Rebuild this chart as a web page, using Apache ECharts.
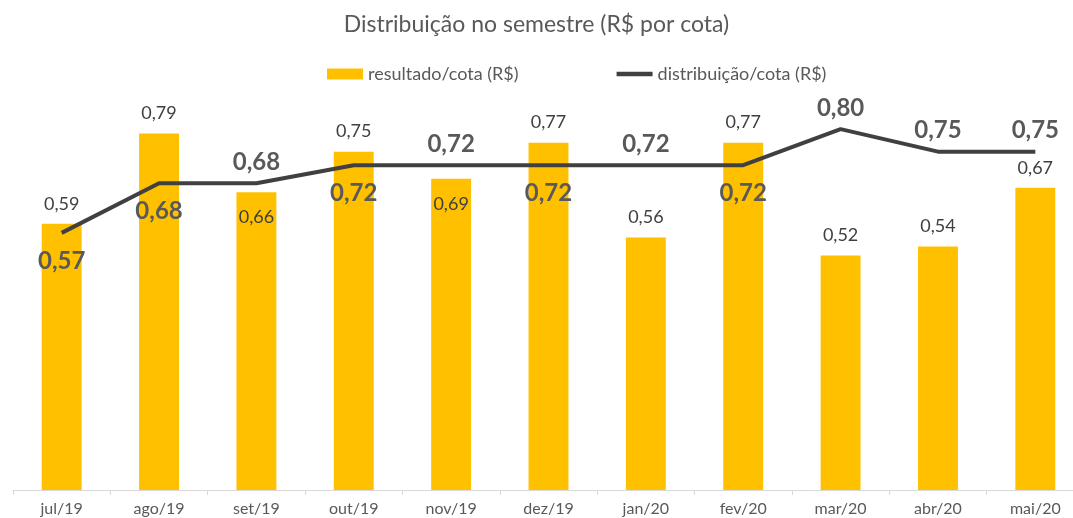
<!DOCTYPE html>
<html>
<head>
<meta charset="utf-8">
<script src="https://cdn.jsdelivr.net/npm/echarts@6/dist/echarts.min.js"></script>
<style>
  html, body { margin: 0; padding: 0; background: #fff; }
  #chart { width: 1073px; height: 518px; }
</style>
</head>
<body>
<div id="chart"></div>
<script>
const months = ["jul/19", "ago/19", "set/19", "out/19", "nov/19", "dez/19", "jan/20", "fev/20", "mar/20", "abr/20", "mai/20"];
const resultado = [0.59, 0.79, 0.66, 0.75, 0.69, 0.77, 0.56, 0.77, 0.52, 0.54, 0.67];
const distribuicao = [0.57, 0.68, 0.68, 0.72, 0.72, 0.72, 0.72, 0.72, 0.80, 0.75, 0.75];

// which labels sit below the line / inside the bar
const lineBelow = [0, 1, 3, 5, 7];
const barInside = [2, 4];

const fmt = (v) => v.toFixed(2).replace(".", ",");
const FONT = "Lato";

const chart = echarts.init(document.getElementById("chart"));

const barData = resultado.map((v, i) => ({
  value: v,
  label: barInside.includes(i) ? { position: "insideTop", distance: 16 } : {}
}));
const lineData = distribuicao.map((v, i) => ({
  value: v,
  label: lineBelow.includes(i) ? { position: "bottom", distance: 16 } : {}
}));

chart.setOption({
  animation: false,
  textStyle: { fontFamily: FONT },
  title: {
    text: "Distribuição no semestre (R$ por cota)",
    left: "center",
    top: 8,
    textStyle: { fontFamily: FONT, fontSize: 23, fontWeight: "normal", color: "#595959" }
  },
  legend: {
    top: 60,
    left: 322,
    itemGap: 98,
    itemWidth: 36,
    itemHeight: 11,
    textStyle: { fontFamily: FONT, fontSize: 18, color: "#595959" },
    data: [
      { name: "resultado/cota (R$)", icon: "rect" },
      { name: "distribuição/cota (R$)", icon: "path://M0,0 L40,0 L40,5 L0,5 Z" }
    ]
  },
  grid: { left: 13, width: 1071, top: 84, bottom: 28, outerBoundsMode: "none" },
  xAxis: {
    type: "category",
    data: months,
    axisLine: { lineStyle: { color: "#d9d9d9", width: 1 } },
    axisTick: { show: true, length: 5, lineStyle: { color: "#d9d9d9" } },
    axisLabel: { color: "#595959", fontSize: 16, fontFamily: FONT, margin: 11 }
  },
  yAxis: {
    type: "value",
    min: 0,
    max: 0.9,
    show: false,
    splitLine: { show: false }
  },
  series: [
    {
      name: "resultado/cota (R$)",
      type: "bar",
      data: barData,
      barWidth: "41%",
      itemStyle: { color: "#FFC000" },
      label: {
        show: true,
        position: "top",
        distance: 11,
        formatter: (p) => fmt(p.value),
        color: "#404040",
        fontSize: 18,
        fontFamily: FONT
      }
    },
    {
      name: "distribuição/cota (R$)",
      type: "line",
      data: lineData,
      symbol: "circle",
      symbolSize: 0,
      z: 5,
      lineStyle: { color: "#404040", width: 4 },
      itemStyle: { color: "#404040" },
      label: {
        show: true,
        position: "top",
        distance: 9,
        formatter: (p) => fmt(p.value),
        color: "#595959",
        fontSize: 24,
        fontWeight: "bold",
        fontFamily: FONT
      }
    }
  ]
});
</script>
</body>
</html>
